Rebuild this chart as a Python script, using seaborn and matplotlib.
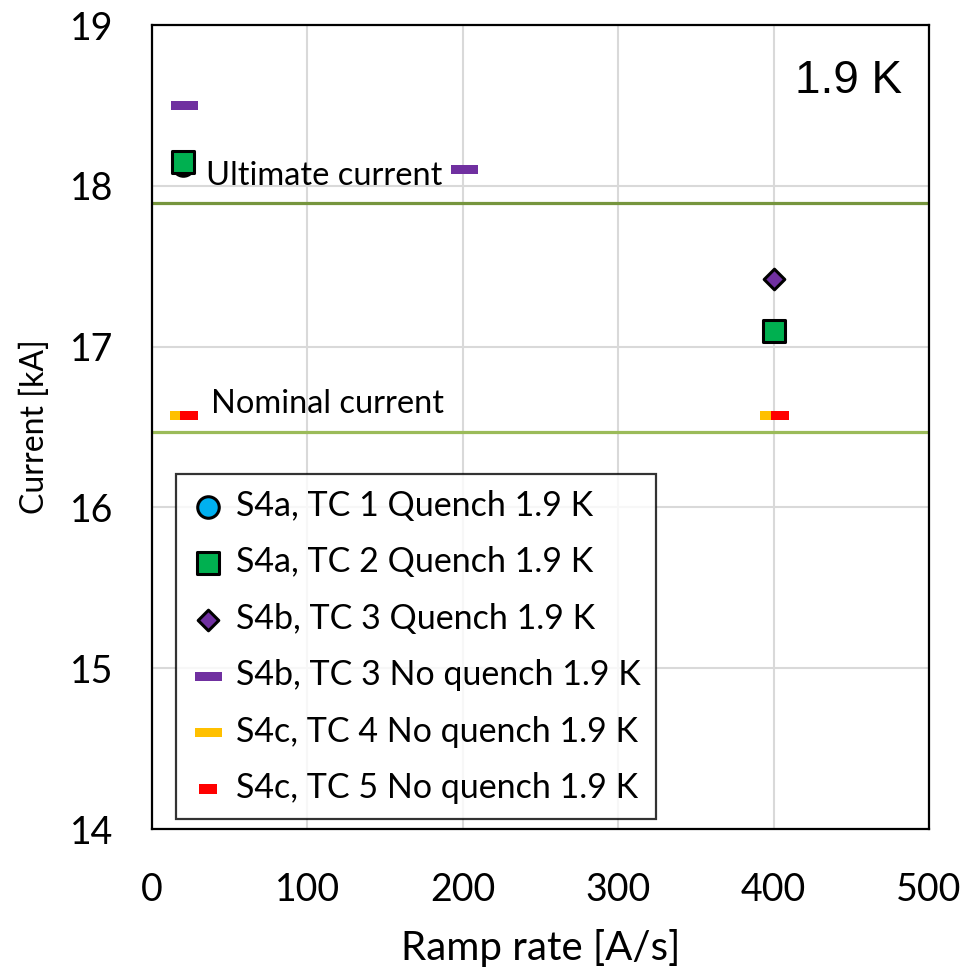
import matplotlib
matplotlib.use("Agg")
import matplotlib.pyplot as plt
import seaborn as sns
import pandas as pd
import numpy as np

sns.set_theme(style="white")
plt.rcParams['font.family'] = ['Lato', 'DejaVu Sans']

# ---- data ----
tc1_x = [20]
tc1_y = [18.13]
tc2_x = [20, 400]
tc2_y = [18.15, 17.10]
tc3q_x = [400]
tc3q_y = [17.42]
tc3n_x = [21, 201]
tc3n_y = [18.50, 18.10]
tc4_x = [20, 400]
tc4_y = [16.57, 16.57]
tc5_x = [24, 404]
tc5_y = [16.57, 16.57]
ultimate_current = 17.89
nominal_current = 16.47
labels = ["S4a, TC 1 Quench 1.9 K", "S4a, TC 2 Quench 1.9 K", "S4b, TC 3 Quench 1.9 K",
          "S4b, TC 3 No quench 1.9 K", "S4c, TC 4 No quench 1.9 K", "S4c, TC 5 No quench 1.9 K"]
x_ticks = [0, 100, 200, 300, 400, 500]
y_ticks = [14, 15, 16, 17, 18, 19]

fig = plt.figure(figsize=(9.7, 9.74), dpi=100)
ax = fig.add_axes([152/970, 145/974, 777/970, 804/974])

dash = [(-1.6, -0.55), (1.6, -0.55), (1.6, 0.55), (-1.6, 0.55), (-1.6, -0.55)]
dash_small = [(-1.05, -0.55), (1.05, -0.55), (1.05, 0.55), (-1.05, 0.55), (-1.05, -0.55)]

ax.axhline(ultimate_current, color="#76953d", lw=2.3, zorder=2)
ax.axhline(nominal_current, color="#9bbb59", lw=2.3, zorder=2)

series = [
    (tc1_x, tc1_y, "o", "#00b0f0", "black", 2.2, 240),
    (tc2_x, tc2_y, "s", "#00b050", "black", 2.2, 250),
    (tc3q_x, tc3q_y, "D", "#7030a0", "black", 2.2, 110),
    (tc3n_x, tc3n_y, dash, "#7030a0", "none", 0, 370),
    (tc4_x, tc4_y, dash, "#ffc000", "none", 0, 370),
    (tc5_x, tc5_y, dash_small, "#ff0000", "none", 0, 170),
]
for (xs, ys, m, fc, ec, lw, s), lab in zip(series, labels):
    df = pd.DataFrame({"x": xs, "y": ys})
    sns.scatterplot(data=df, x="x", y="y", marker=m, s=s, color=fc, edgecolor=ec,
                    linewidth=lw, ax=ax, label=lab, zorder=4)

ax.set_xlim(0, 500)
ax.set_ylim(14, 19)
ax.set_xticks(x_ticks)
ax.set_yticks(y_ticks)
ax.grid(True, color="#d9d9d9", lw=1.5)
ax.set_axisbelow(True)
for sp in ax.spines.values():
    sp.set_color("black")
    sp.set_linewidth(1.6)
ax.tick_params(axis="both", length=0, labelsize=27, colors="black")
ax.tick_params(axis="x", pad=31)
ax.tick_params(axis="y", pad=28)
ax.set_xlabel("Ramp rate [A/s]", fontsize=29, color="black", labelpad=15)
ax.set_ylabel("Current [kA]", fontsize=23, color="black", labelpad=14)

ax.text(35, 18.06, "Ultimate current", fontsize=23.5, va="center", ha="left", color="black", zorder=5)
ax.text(38, 16.64, "Nominal current", fontsize=23.5, va="center", ha="left", color="black", zorder=5)
ax.text(0.965, 0.93, "1.9 K", transform=ax.transAxes, fontsize=33, ha="right", va="center",
        family=["Liberation Sans", "DejaVu Sans"], color="black")

leg = ax.legend(loc="lower left", bbox_to_anchor=(0.031, 0.012), borderaxespad=0,
                fontsize=24.5, frameon=True, fancybox=False, edgecolor="black",
                handlelength=1.0, handletextpad=0.3, labelspacing=0.72, borderpad=0.45)
leg.get_frame().set_linewidth(1.6)
for t in leg.get_texts():
    t.set_color("black")

fig.savefig("out.png", dpi=100, facecolor="white")
